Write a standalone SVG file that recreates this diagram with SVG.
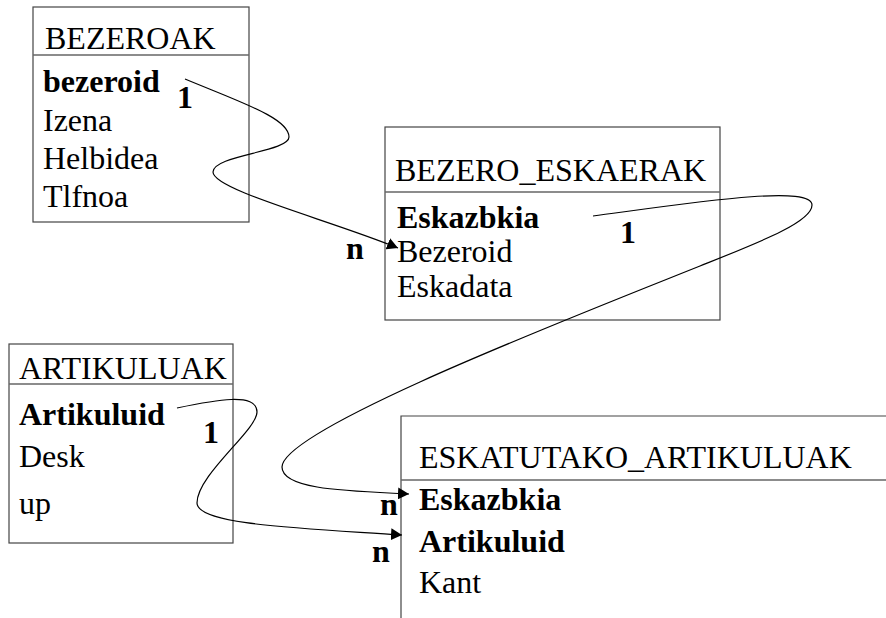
<svg xmlns="http://www.w3.org/2000/svg" width="886" height="618" viewBox="0 0 886 618">
<style>
text{font-family:'Liberation Serif','Times New Roman',Times,'DejaVu Serif',serif;font-size:32px;fill:#000}
.b{font-weight:bold}
.box{fill:none;stroke:#444;stroke-width:1.2}
.sep{fill:none;stroke:#666;stroke-width:1.6}
.con{fill:none;stroke:#000;stroke-width:1.2}
</style>
<defs>
<marker id="ah" markerUnits="userSpaceOnUse" markerWidth="12" markerHeight="12" refX="11" refY="6" orient="auto" viewBox="0 0 12 12">
<path d="M0,0 L11,6 L0,12 z" fill="#000"/>
</marker>
</defs>
<rect width="886" height="618" fill="#fff"/>
<g font-family="Liberation Serif, Times New Roman, serif">
<g id="bezeroak">
<rect class="box" x="33" y="7" width="216" height="215"/>
<line class="sep" x1="33" y1="55" x2="249" y2="55"/>
<text x="45" y="49">BEZEROAK</text>
<text class="b" x="43" y="92">bezeroid</text>
<text x="43" y="131">Izena</text>
<text x="43" y="169">Helbidea</text>
<text x="43" y="207">Tlfnoa</text>
</g>
<g id="bezero_eskaerak">
<rect class="box" x="385" y="127" width="335" height="193"/>
<line class="sep" x1="385" y1="192" x2="720" y2="192"/>
<text x="395" y="181">BEZERO_ESKAERAK</text>
<text class="b" x="397" y="228">Eskazbkia</text>
<text x="397" y="262">Bezeroid</text>
<text x="397" y="297">Eskadata</text>
</g>
<g id="artikuluak">
<rect class="box" x="9" y="344" width="224" height="199"/>
<line class="sep" x1="9" y1="384" x2="233" y2="384"/>
<text x="19" y="379">ARTIKULUAK</text>
<text class="b" x="19" y="425">Artikuluid</text>
<text x="19" y="467">Desk</text>
<text x="19" y="514">up</text>
</g>
<g id="eskatutako_artikuluak">
<path class="box" d="M886,416 H401 V618"/>
<line class="sep" x1="401" y1="480" x2="886" y2="480"/>
<text x="419" y="468">ESKATUTAKO_ARTIKULUAK</text>
<text class="b" x="419" y="510">Eskazbkia</text>
<text class="b" x="419" y="552">Artikuluid</text>
<text x="419" y="593">Kant</text>
</g>
<g id="connectors">
<path class="con" marker-end="url(#ah)" d="M185,79 C240,102 289,118 289,137 C289,152 213,155 213,172 C213,190 330,220 398,248"/>
<path class="con" marker-end="url(#ah)" d="M593,216 C690,203 812,184 812,205 C812,222 760,242 700,266 C560,322 282,430 282,467 C282,490 350,491 409,494"/>
<path class="con" marker-end="url(#ah)" d="M177,408 C215,400 257,392 257,412 C257,430 197,475 197,503 C197,525 300,528 402,535"/>
</g>
<g id="labels">
<text class="b" x="177" y="108">1</text>
<text class="b" x="346" y="259">n</text>
<text class="b" x="620" y="243">1</text>
<text class="b" x="203" y="443">1</text>
<text class="b" x="380" y="515">n</text>
<text class="b" x="372" y="562">n</text>
</g>
</g>
</svg>
